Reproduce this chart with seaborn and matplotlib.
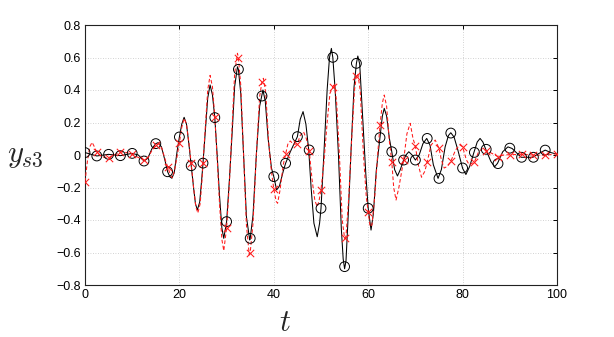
import numpy as np
import pandas as pd
import matplotlib
matplotlib.use("Agg")
import matplotlib.pyplot as plt
import seaborn as sns

# ---- marker samples (every 2.5 in t) ----
t_marks = [0, 2.5, 5, 7.5, 10, 12.5, 15, 17.5, 20, 22.5, 25, 27.5, 30, 32.5, 35, 37.5,
           40, 42.5, 45, 47.5, 50, 52.5, 55, 57.5, 60, 62.5, 65, 67.5, 70, 72.5, 75,
           77.5, 80, 82.5, 85, 87.5, 90, 92.5, 95, 97.5, 100]
black_marks = [0.015, -0.006, 0.004, -0.004, 0.01, -0.037, 0.07, -0.103, 0.111, -0.066,
               -0.05, 0.23, -0.41, 0.527, -0.513, 0.363, -0.133, -0.051, 0.113, 0.031,
               -0.328, 0.601, -0.687, 0.564, -0.328, 0.107, 0.02, -0.031, -0.031, 0.102,
               -0.144, 0.135, -0.08, 0.016, 0.035, -0.053, 0.042, -0.014, -0.014, 0.03]
red_marks = [-0.165, 0.016, -0.016, 0.02, 0.004, -0.033, 0.062, -0.072, 0.076, -0.051,
             -0.05, 0.236, -0.449, 0.598, -0.6, 0.451, -0.21, 0.006, 0.07, 0.027,
             -0.215, 0.416, -0.513, 0.486, -0.349, 0.183, -0.041, -0.033, 0.055, -0.043,
             0.041, -0.039, 0.05, -0.043, 0.027, -0.01, 0.002, 0.004, 0.0, -0.002, 0.008]

# ---- continuous curves ----
t_black = [0, 2.5, 5, 7.5, 10, 11.3, 12.5, 13.3, 14.2, 15, 15.5, 16.2, 17, 17.5, 18.0, 18.4,
           18.9, 19.5, 20, 20.5, 21.0, 21.5, 22.0, 22.5, 23.0, 23.4, 23.8, 24.3, 24.7, 25,
           25.5, 26.0, 26.5, 27.0, 27.5, 28.0, 28.5, 29.0, 29.4, 30, 30.6, 31.2, 31.7, 32.3,
           32.5, 33.0, 33.6, 34.2, 34.9, 35, 35.6, 36.3, 37.0, 37.5, 37.7, 38.2, 38.8, 39.5,
           40, 40.6, 41.2, 42.0, 42.5, 43.5, 44.3, 45, 45.6, 46.2, 46.8, 47.4, 47.9, 48.5,
           49.2, 49.7, 50, 50.6, 51.3, 51.8, 52.2, 52.5, 53.0, 53.7, 54.3, 54.7, 55, 55.3,
           55.8, 56.4, 57.0, 57.5, 57.8, 58.2, 58.8, 59.5, 60, 60.6, 61.1, 61.7, 62.5, 63.0,
           63.4, 63.9, 64.5, 65, 65.6, 66.2, 66.8, 67.5, 68.0, 68.6, 69.3, 70, 70.8, 71.6,
           72.4, 73.1, 73.8, 74.8, 75.5, 76.3, 77.0, 77.5, 78.2, 79.0, 80, 80.7, 81.5, 82.4,
           83.1, 83.7, 84.3, 84.9, 86.0, 86.8, 87.4, 88.5, 89.6, 90.5, 92.4, 94.9, 96.2,
           97.5, 98.7, 100]
black_curve = [0.015, -0.006, 0.004, -0.004, 0.01, 0.0, -0.037, -0.02, 0.04, 0.07, 0.076,
               0.05, -0.04, -0.103, -0.135, -0.143, -0.11, 0.02, 0.111, 0.19, 0.232, 0.19,
               0.07, -0.066, -0.2, -0.3, -0.338, -0.29, -0.16, -0.05, 0.15, 0.35, 0.431, 0.37,
               0.23, 0.0, -0.25, -0.45, -0.513, -0.41, -0.15, 0.15, 0.42, 0.543, 0.527, 0.38,
               0.0, -0.38, -0.523, -0.513, -0.37, 0.0, 0.3, 0.37, 0.4, 0.33, 0.1, -0.08,
               -0.133, -0.215, -0.19, -0.1, -0.051, 0.02, 0.07, 0.113, 0.22, 0.267, 0.19,
               0.031, -0.2, -0.42, -0.503, -0.42, -0.328, 0.0, 0.4, 0.6, 0.656, 0.601, 0.4,
               0.0, -0.45, -0.64, -0.7, -0.65, -0.35, 0.05, 0.42, 0.564, 0.609, 0.56, 0.25,
               -0.12, -0.328, -0.462, -0.36, -0.1, 0.107, 0.24, 0.287, 0.24, 0.1, 0.02, -0.09,
               -0.129, -0.09, -0.031, 0.0, 0.02, 0.0, -0.031, 0.0, 0.07, 0.102, 0.06, -0.06,
               -0.144, -0.09, 0.05, 0.12, 0.137, 0.11, 0.03, -0.082, -0.12, -0.07, 0.016, 0.08,
               0.102, 0.08, 0.035, -0.04, -0.072, -0.051, 0.02, 0.05, 0.04, -0.014, -0.014,
               0.01, 0.03, 0.015, 0.005]

t_red = [0, 0.5, 1.0, 1.5, 2.0, 2.5, 3.6, 5, 6.2, 7.5, 8.8, 10, 11.3, 12.5, 13.4, 14.3, 15,
         15.6, 16.3, 17.0, 17.5, 18.2, 18.5, 19.0, 19.5, 20, 20.5, 21.0, 21.5, 22.0, 22.5,
         23.0, 23.5, 23.9, 24.4, 24.8, 25, 25.5, 26.0, 26.5, 27.0, 27.5, 28.0, 28.5, 29.0,
         29.4, 30, 30.6, 31.2, 31.7, 32.3, 32.5, 33.0, 33.6, 34.2, 34.8, 35, 35.6, 36.3,
         37.0, 37.5, 37.8, 38.3, 38.9, 39.5, 40, 40.5, 40.8, 41.3, 42.0, 42.5, 43.0, 43.5,
         44.2, 45, 45.6, 46.3, 46.9, 47.5, 48.1, 48.7, 49.2, 49.6, 50, 50.6, 51.3, 51.9,
         52.5, 52.8, 53.3, 53.9, 54.5, 55, 55.3, 55.9, 56.5, 57.1, 57.5, 57.8, 58.3, 59.0,
         59.6, 60, 60.4, 60.8, 61.4, 62.0, 62.5, 63.0, 63.4, 63.9, 64.5, 65, 65.4, 65.9,
         66.5, 67.5, 68.2, 68.9, 69.5, 70, 70.6, 71.3, 72, 72.5, 73.3, 74.2, 75, 75.5, 76.1,
         76.8, 77.5, 78.5, 79.4, 80, 80.8, 81.4, 82.5, 83.4, 84.2, 85, 86.2, 87.5, 88.7, 90,
         92.5, 95, 97.5, 100]
red_curve = [-0.165, -0.04, 0.05, 0.078, 0.05, 0.016, -0.012, -0.016, 0.0, 0.02, 0.015,
             0.004, -0.015, -0.033, -0.015, 0.035, 0.062, 0.07, 0.04, -0.03, -0.072, -0.13,
             -0.14, -0.09, -0.01, 0.076, 0.17, 0.225, 0.19, 0.08, -0.051, -0.2, -0.32, -0.357,
             -0.3, -0.15, -0.05, 0.18, 0.4, 0.49, 0.42, 0.236, -0.02, -0.3, -0.52, -0.589,
             -0.449, -0.17, 0.2, 0.5, 0.626, 0.598, 0.43, 0.0, -0.43, -0.615, -0.6, -0.42,
             0.0, 0.36, 0.451, 0.472, 0.38, 0.08, -0.1, -0.21, -0.285, -0.297, -0.22, -0.06,
             0.006, 0.07, 0.086, 0.065, 0.07, 0.12, 0.143, 0.1, 0.027, -0.15, -0.28, -0.318,
             -0.28, -0.215, -0.05, 0.2, 0.38, 0.416, 0.44, 0.33, 0.0, -0.4, -0.513, -0.5,
             -0.25, 0.1, 0.4, 0.486, 0.5, 0.4, 0.0, -0.26, -0.349, -0.44, -0.43, -0.25, 0.0,
             0.183, 0.32, 0.369, 0.3, 0.08, -0.041, -0.2, -0.277, -0.2, -0.033, 0.13, 0.195,
             0.1, 0.055, -0.06, -0.137, -0.1, -0.043, 0.06, 0.092, 0.041, -0.03, -0.08, -0.07,
             -0.039, 0.03, 0.063, 0.05, -0.03, -0.06, -0.043, 0.02, 0.04, 0.027, 0.01, -0.01,
             0.0, 0.002, 0.004, 0.0, -0.002, 0.008]

x_ticks = [0, 20, 40, 60, 80, 100]
y_ticks = [-0.8, -0.6, -0.4, -0.2, 0, 0.2, 0.4, 0.6, 0.8]
y_ticklabels = ["\u22120.8", "\u22120.6", "\u22120.4", "\u22120.2", "0", "0.2", "0.4", "0.6", "0.8"]

sns.set_style("white")
plt.rcParams["font.family"] = ["Liberation Sans", "DejaVu Sans"]
plt.rcParams["mathtext.fontset"] = "cm"

fig = plt.figure(figsize=(6.14, 3.37), dpi=100)
ax = fig.add_axes([85 / 614, 1 - 285 / 337, (557 - 85) / 614, (285 - 25) / 337])

dfb = pd.DataFrame({"t": t_black, "y": black_curve})
dfr = pd.DataFrame({"t": t_red, "y": red_curve})
sns.lineplot(data=dfb, x="t", y="y", ax=ax, color="black", lw=0.75, sort=False,
             estimator=None, zorder=3)
sns.lineplot(data=dfr, x="t", y="y", ax=ax, color="#ff1a1a", lw=0.75, sort=False,
             estimator=None, zorder=4)
ax.lines[-1].set_dashes([3.5, 2.2])

dmb = pd.DataFrame({"t": t_marks[:len(black_marks)], "y": black_marks})
dmr = pd.DataFrame({"t": t_marks, "y": red_marks})
sns.scatterplot(data=dmb, x="t", y="y", ax=ax, marker="o", s=50, facecolor="none",
                edgecolor="black", linewidth=0.7, zorder=5)
sns.scatterplot(data=dmr, x="t", y="y", ax=ax, marker="x", s=28, color="#ff1a1a",
                linewidth=0.75, zorder=6)

ax.set_xlim(0, 100)
ax.set_ylim(-0.8, 0.8)
ax.set_xticks(x_ticks)
ax.set_xticklabels([str(v) for v in x_ticks])
ax.set_yticks(y_ticks)
ax.set_yticklabels(y_ticklabels)
ax.grid(True, color="#c4c4c4", linestyle=(0, (1, 2)), linewidth=0.6)
ax.tick_params(direction="in", length=3, width=0.7, labelsize=9, colors="black",
               top=True, right=True, pad=3)
for sp in ax.spines.values():
    sp.set_visible(True)
    sp.set_color("#222222")
    sp.set_linewidth(0.8)

ax.set_xlabel("")
ax.set_ylabel("")
fig.text(285 / 614, 1 - 323 / 337, r"$t$", fontsize=22, ha="center", va="center")
fig.text(25 / 614, 1 - 155 / 337, r"$y_{s3}$", fontsize=22, ha="center", va="center")

fig.savefig("out.png", dpi=100)
